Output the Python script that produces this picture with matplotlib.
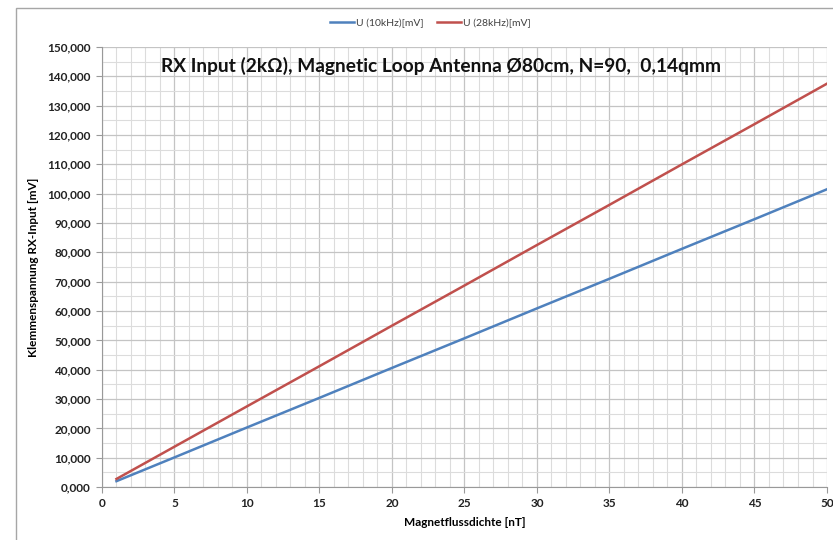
import matplotlib.pyplot as plt
from matplotlib.ticker import MultipleLocator, FuncFormatter
from matplotlib.patches import Rectangle

plt.rcParams['font.family'] = ['Lato', 'DejaVu Sans']

# Magnetflussdichte [nT]
b_nT = [1, 5, 10, 15, 20, 25, 30, 35, 40, 45, 50]
# Klemmenspannung [mV]
u_10khz = [2.0, 10.1, 20.3, 30.4, 40.6, 50.7, 60.9, 71.0, 81.2, 91.3, 101.5]
u_28khz = [2.75, 13.75, 27.5, 41.2, 55.0, 68.7, 82.5, 96.2, 110.0, 123.7, 137.5]

fig = plt.figure(figsize=(8.33, 5.4), dpi=100)
ax = fig.add_axes([0.1224, 0.0981, 0.8704, 0.8149])

# Rahmen des Diagrammbereichs
fig.patches.append(Rectangle((16 / 833, -0.1), 1.2, 1 - 8 / 540 + 0.1,
                             transform=fig.transFigure, fill=False,
                             edgecolor='#a6a6a6', linewidth=1.0))

ax.plot(b_nT, u_10khz, color='#4F81BD', lw=1.8, label='U (10kHz)[mV]')
ax.plot(b_nT, u_28khz, color='#C0504D', lw=1.8, label='U (28kHz)[mV]')

ax.set_xlim(0, 50)
ax.set_ylim(0, 150)
ax.xaxis.set_major_locator(MultipleLocator(5))
ax.xaxis.set_minor_locator(MultipleLocator(1))
ax.yaxis.set_major_locator(MultipleLocator(10))
ax.yaxis.set_minor_locator(MultipleLocator(5))
# deutsches Zahlenformat: 10,000
ax.yaxis.set_major_formatter(FuncFormatter(lambda v, p: f"{v:.3f}".replace('.', ',')))

ax.grid(which='major', color='#c4c4c4', lw=0.9)
ax.grid(which='minor', color='#dcdcdc', lw=0.8)
ax.set_axisbelow(True)

for s in ['top', 'right']:
    ax.spines[s].set_visible(False)
for s in ['left', 'bottom']:
    ax.spines[s].set_color('#999999')
ax.tick_params(which='major', length=4, color='#999999', labelsize=8.5,
               labelcolor='#222222', pad=4)
ax.tick_params(which='minor', length=0)
for lbl in ax.get_xticklabels() + ax.get_yticklabels():
    lbl.set_fontweight('bold')

ax.set_xlabel('Magnetflussdichte [nT]', fontsize=8.5, fontweight='bold', labelpad=6)
ax.set_ylabel('Klemmenspannung RX-Input [mV]', fontsize=8.5, fontweight='bold', labelpad=6)

ax.text(0.468, 0.958, 'RX Input (2k\u03a9), Magnetic Loop Antenna \u00d880cm, N=90,  0,14qmm',
        transform=ax.transAxes, ha='center', va='center', fontsize=13.8,
        fontweight='bold', color='#111111')

leg = fig.legend(loc='center', bbox_to_anchor=(0.517, 1 - 23 / 540), ncol=2,
                 frameon=False, fontsize=7.5, handlelength=2.3, columnspacing=1.3,
                 handletextpad=0.2)
for t in leg.get_texts():
    t.set_color('#404040')

fig.savefig('out.png', dpi=100)
